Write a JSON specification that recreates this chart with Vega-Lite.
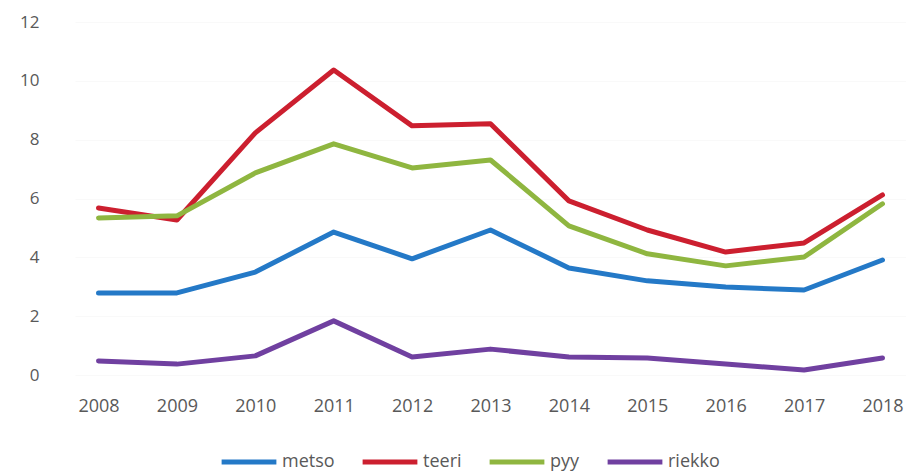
{
  "$schema": "https://vega.github.io/schema/vega-lite/v6.json",
  "autosize": "none",
  "width": 831,
  "height": 353,
  "padding": {"left": 75, "top": 22, "right": 0, "bottom": 98},
  "background": "white",
  "config": {"view": {"stroke": null}, "font": "Open Sans"},
  "data": {"values": [
    {"vuosi": "2008", "laji": "metso", "arvo": 2.79},
    {"vuosi": "2009", "laji": "metso", "arvo": 2.79},
    {"vuosi": "2010", "laji": "metso", "arvo": 3.5},
    {"vuosi": "2011", "laji": "metso", "arvo": 4.86},
    {"vuosi": "2012", "laji": "metso", "arvo": 3.95},
    {"vuosi": "2013", "laji": "metso", "arvo": 4.93},
    {"vuosi": "2014", "laji": "metso", "arvo": 3.64},
    {"vuosi": "2015", "laji": "metso", "arvo": 3.2},
    {"vuosi": "2016", "laji": "metso", "arvo": 2.99},
    {"vuosi": "2017", "laji": "metso", "arvo": 2.89},
    {"vuosi": "2018", "laji": "metso", "arvo": 3.91},
    {"vuosi": "2008", "laji": "teeri", "arvo": 5.68},
    {"vuosi": "2009", "laji": "teeri", "arvo": 5.27},
    {"vuosi": "2010", "laji": "teeri", "arvo": 8.23},
    {"vuosi": "2011", "laji": "teeri", "arvo": 10.37},
    {"vuosi": "2012", "laji": "teeri", "arvo": 8.47},
    {"vuosi": "2013", "laji": "teeri", "arvo": 8.54},
    {"vuosi": "2014", "laji": "teeri", "arvo": 5.92},
    {"vuosi": "2015", "laji": "teeri", "arvo": 4.93},
    {"vuosi": "2016", "laji": "teeri", "arvo": 4.18},
    {"vuosi": "2017", "laji": "teeri", "arvo": 4.49},
    {"vuosi": "2018", "laji": "teeri", "arvo": 6.12},
    {"vuosi": "2008", "laji": "pyy", "arvo": 5.34},
    {"vuosi": "2009", "laji": "pyy", "arvo": 5.41},
    {"vuosi": "2010", "laji": "pyy", "arvo": 6.87},
    {"vuosi": "2011", "laji": "pyy", "arvo": 7.86},
    {"vuosi": "2012", "laji": "pyy", "arvo": 7.04},
    {"vuosi": "2013", "laji": "pyy", "arvo": 7.31},
    {"vuosi": "2014", "laji": "pyy", "arvo": 5.07},
    {"vuosi": "2015", "laji": "pyy", "arvo": 4.12},
    {"vuosi": "2016", "laji": "pyy", "arvo": 3.71},
    {"vuosi": "2017", "laji": "pyy", "arvo": 4.01},
    {"vuosi": "2018", "laji": "pyy", "arvo": 5.82},
    {"vuosi": "2008", "laji": "riekko", "arvo": 0.48},
    {"vuosi": "2009", "laji": "riekko", "arvo": 0.37},
    {"vuosi": "2010", "laji": "riekko", "arvo": 0.65},
    {"vuosi": "2011", "laji": "riekko", "arvo": 1.84},
    {"vuosi": "2012", "laji": "riekko", "arvo": 0.61},
    {"vuosi": "2013", "laji": "riekko", "arvo": 0.88},
    {"vuosi": "2014", "laji": "riekko", "arvo": 0.61},
    {"vuosi": "2015", "laji": "riekko", "arvo": 0.58},
    {"vuosi": "2016", "laji": "riekko", "arvo": 0.37},
    {"vuosi": "2017", "laji": "riekko", "arvo": 0.17},
    {"vuosi": "2018", "laji": "riekko", "arvo": 0.58}
  ]},
  "mark": {"type": "line", "strokeWidth": 5, "strokeCap": "round", "strokeJoin": "round"},
  "encoding": {
    "x": {
      "field": "vuosi", "type": "ordinal",
      "scale": {"type": "point", "padding": 0.3},
      "axis": {"title": null, "domain": false, "ticks": false, "labelAngle": 0, "labelFontSize": 18, "labelColor": "#595959", "labelPadding": 22, "grid": false}
    },
    "y": {
      "field": "arvo", "type": "quantitative",
      "scale": {"domain": [0, 12], "nice": false},
      "axis": {"title": null, "domain": false, "ticks": false, "values": [0, 2, 4, 6, 8, 10, 12], "labelFontSize": 17, "labelColor": "#595959", "labelPadding": 36, "grid": true, "gridColor": "#f9f9f9", "gridWidth": 1}
    },
    "color": {
      "field": "laji", "type": "nominal",
      "sort": ["metso", "teeri", "pyy", "riekko"],
      "scale": {"domain": ["metso", "teeri", "pyy", "riekko"], "range": ["#2479c7", "#cc1f2f", "#8fb640", "#7040a0"]},
      "legend": {
        "title": null, "orient": "none", "direction": "horizontal",
        "legendX": 144, "legendY": 410,
        "symbolType": "stroke", "symbolSize": 3000, "symbolStrokeWidth": 5,
        "labelFontSize": 18, "labelColor": "#595959", "labelOffset": 3,
        "columnPadding": 17
      }
    }
  }
}
